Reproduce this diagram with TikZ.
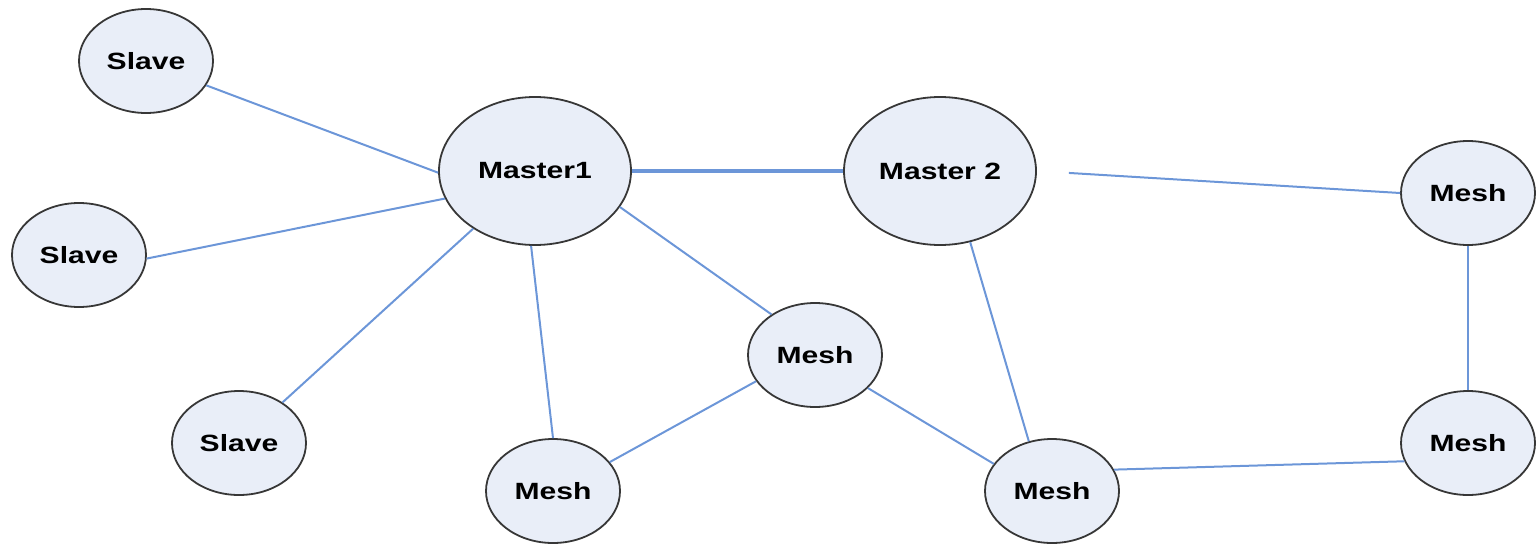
\documentclass[tikz,border=0pt]{standalone}
\usepackage{fontspec}
\setmainfont{Liberation Sans}
\usetikzlibrary{shapes.geometric}
\definecolor{linkblue}{RGB}{108,150,216}
\definecolor{nodefill}{RGB}{233,238,248}
\definecolor{nodeedge}{RGB}{55,55,55}
\tikzset{
  netnode/.style={ellipse, draw=nodeedge, line width=1.8pt, fill=nodefill, inner sep=0pt,
    font=\fontsize{23.5}{26}\selectfont\bfseries},
  small/.style={netnode, minimum width=134pt, minimum height=104pt},
  big/.style={netnode, minimum width=192pt, minimum height=148pt},
  link/.style={draw=linkblue, line width=2pt},
  thicklink/.style={draw=linkblue, line width=3.4pt}
}
\newcommand{\wlab}[1]{\scalebox{1.28}[1]{#1}}
\begin{document}
\begin{tikzpicture}[x=1pt,y=-1pt]
\useasboundingbox (0,0) rectangle (1538,544);
\node[small] (s1) at (146,61) {\wlab{Slave}};
\node[small] (s2) at (79,255) {\wlab{Slave}};
\node[small] (s3) at (239,443) {\wlab{Slave}};
\node[big] (m1) at (535,171) {\wlab{Master1}};
\node[big] (m2) at (940,171) {\wlab{Master 2}};
\node[small] (mtr) at (1468,193) {\wlab{Mesh}};
\node[small] (mmid) at (815,355) {\wlab{Mesh}};
\node[small] (mbl) at (553,491) {\wlab{Mesh}};
\node[small] (mbm) at (1052,491) {\wlab{Mesh}};
\node[small] (mbr) at (1468,443) {\wlab{Mesh}};
\draw[link] (s1.338) -- (m1.181);
\draw[link] (s2.357) -- (m1.197);
\draw[link] (s3.43) -- (m1.223);
\draw[link] (m1.267) -- (mbl.90);
\draw[link] (m1.337) -- (mmid.137);
\draw[thicklink] (m1.east) -- (m2.west);
\draw[link] (mmid.204) -- (mbl.27);
\draw[link] (mmid.328) -- (mbm.155);
\draw[link] (m2.293) -- (mbm.115);
\draw[link, shorten <=32pt] (m2.east) -- (mtr.west);
\draw[link] (mtr.south) -- (mbr.north);
\draw[link] (mbm.19) -- (mbr.196);
\end{tikzpicture}
\end{document}
